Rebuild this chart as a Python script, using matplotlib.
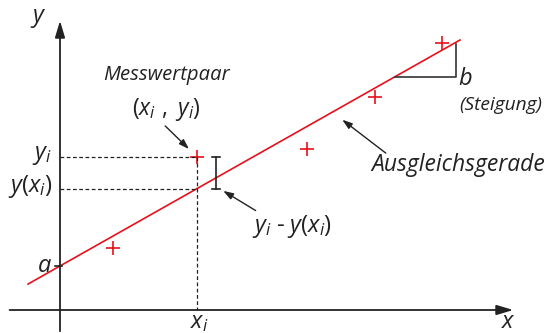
import matplotlib
matplotlib.use("Agg")
import matplotlib.pyplot as plt
import numpy as np

plt.rcParams['font.family'] = ['Open Sans', 'DejaVu Sans']
plt.rcParams['mathtext.fontset'] = 'custom'
plt.rcParams['mathtext.it'] = 'Open Sans:italic'
plt.rcParams['mathtext.rm'] = 'Open Sans'

# data (units: axis units)
point_x = [1.325, 3.425, 6.175, 7.875, 9.55]
point_y = [1.55, 3.825, 4.025, 5.325, 6.675]
intercept_a = 1.1
slope_b = 0.565
line_x = [-0.8, 10.0]
sel_index = 1

S = 40.0
fig = plt.figure(figsize=(5.46, 3.33), dpi=100)
ax = fig.add_axes([0, 0, 1, 1])
ax.set_xlim(-60 / S, (546 - 60) / S)
ax.set_ylim(-(333 - 310) / S, 310 / S)
ax.axis('off')

red = '#e8101a'
dark = '#222222'

# axes arrows
ax.annotate('', xy=(11.4, 0), xytext=(-1.33, 0),
            arrowprops=dict(arrowstyle='-|>,head_length=1.0,head_width=0.3', color=dark, lw=1.3))
ax.annotate('', xy=(0, 7.3), xytext=(0, -0.6),
            arrowprops=dict(arrowstyle='-|>,head_length=1.0,head_width=0.3', color=dark, lw=1.3))

# regression line
lx = np.array(line_x)
ax.plot(lx, intercept_a + slope_b * lx, color=red, lw=1.2)

# points
ax.plot(point_x, point_y, '+', color=red, ms=10, mew=1.2)

xi = point_x[sel_index]
yi = point_y[sel_index]
yhat = intercept_a + slope_b * xi

# dashed guides
ax.plot([0, xi], [yi, yi], ls=(0, (3, 2)), color=dark, lw=0.9)
ax.plot([0, xi], [yhat, yhat], ls=(0, (3, 2)), color=dark, lw=0.9)
ax.plot([xi, xi], [yi, 0], ls=(0, (3, 2)), color=dark, lw=0.9)

# residual bar
ex = xi + 0.475
ax.plot([ex, ex], [yhat, yi], color=dark, lw=1.2)
ax.plot([ex - 0.1, ex + 0.1], [yi, yi], color=dark, lw=1.2)
ax.plot([ex - 0.1, ex + 0.1], [yhat, yhat], color=dark, lw=1.2)

# tick at a
ax.plot([-0.12, 0.05], [intercept_a, intercept_a], color=dark, lw=1.2)

# slope triangle
tx0 = 8.375
tx1 = 9.9
ty0 = intercept_a + slope_b * tx0
ax.plot([tx0, tx1, tx1], [ty0, ty0, intercept_a + slope_b * tx1 - 0.05], color='#333333', lw=1.2)

fs = 17
col = '#222222'
ax.text(-0.55, 7.3, '$y$', fontsize=fs, color=col, ha='center', va='center')
ax.text(11.2, -0.3, '$x$', fontsize=fs, color=col, ha='center', va='center')
ax.text(-0.2, intercept_a, '$a$', fontsize=fs, color=col, ha='right', va='center')
ax.text(-0.2, yi + 0.05, '$y_i$', fontsize=fs, color=col, ha='right', va='center')
ax.text(-0.2, yhat + 0.05, '$y(x_i)$', fontsize=fs, color=col, ha='right', va='center')
ax.text(xi + 0.05, -0.3, '$x_i$', fontsize=fs, color=col, ha='center', va='center')
ax.text(2.65, 5.88, 'Messwertpaar', fontsize=14.6, style='italic', color=col, ha='center', va='center')
ax.text(2.65, 5.0, '$(x_i\\ ,\\ y_i)$', fontsize=16.5, color=col, ha='center', va='center')
ax.annotate('', xy=(xi - 0.15, yi + 0.15), xytext=(2.58, 4.65),
            arrowprops=dict(arrowstyle='-|>,head_length=0.6,head_width=0.2', color=dark, lw=1.0))
ax.text(5.8, 2.1, '$y_i$ - $y(x_i)$', fontsize=fs, color=col, ha='center', va='center')
ax.annotate('', xy=(ex + 0.12, yhat - 0.02), xytext=(4.95, 2.45),
            arrowprops=dict(arrowstyle='-|>,head_length=0.6,head_width=0.2', color=dark, lw=1.0))
ax.text(12.13, 3.62, 'Ausgleichsgerade', fontsize=16.5, style='italic', color=col, ha='right', va='center')
ax.annotate('', xy=(7.0, 4.8), xytext=(8.2, 3.88),
            arrowprops=dict(arrowstyle='-|>,head_length=0.6,head_width=0.2', color=dark, lw=1.0))
ax.text(9.95, 5.78, '$b$', fontsize=fs, color=col, ha='left', va='center')
ax.text(12.05, 5.12, '(Steigung)', fontsize=13.8, style='italic', color=col, ha='right', va='center')

fig.savefig('out.png', dpi=100)
